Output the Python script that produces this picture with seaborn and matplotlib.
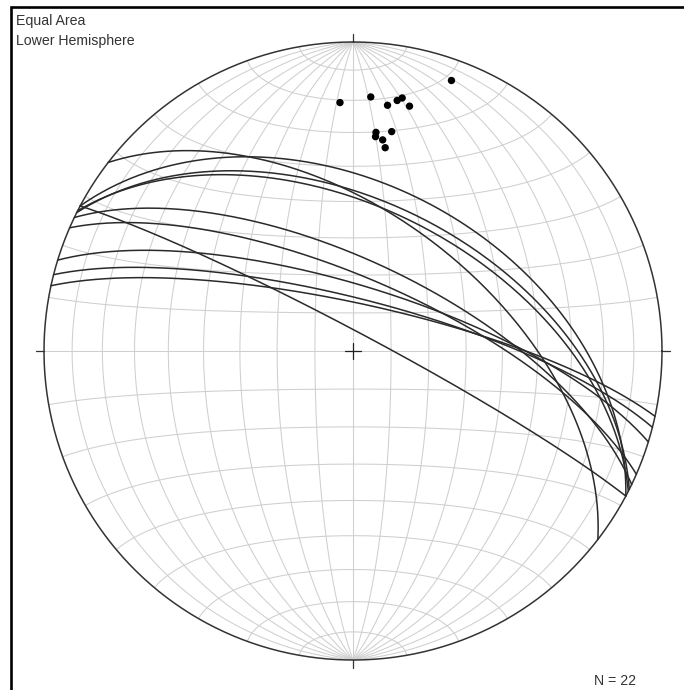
import numpy as np
import pandas as pd
import matplotlib
matplotlib.use("Agg")
import matplotlib.pyplot as plt
from matplotlib.patches import Rectangle
import seaborn as sns

# %% Data: planes (right-hand-rule strike / dip) and lineations (trend / plunge)
plane_strikes = [307.6, 298.0, 296.6, 297.0, 298.0, 295.6, 293.5, 287.1, 284.3, 282.2]
plane_dips = [54.0, 45.4, 50.0, 52.0, 85.0, 66.4, 70.8, 72.8, 76.2, 77.4]

line_trends = [357.0, 4.0, 8.0, 10.0, 11.0, 13.0, 20.0, 6.0, 6.0, 10.0, 8.0, 9.0]
line_plunges = [20.6, 18.7, 20.8, 18.8, 17.7, 19.8, 7.6, 29.6, 30.9, 28.7, 31.6, 33.8]

n_total = len(plane_strikes) + len(line_trends)


# %% Equal-area (Schmidt) projection helpers, lower hemisphere
def project(e, n, d):
    # unit vectors (east, north, down) with down >= 0
    s = np.sqrt(1.0 + d)
    return e / s, n / s


def great_circle(strike, dip, npts=181):
    s = np.radians(strike)
    dd = np.radians(strike + 90.0)
    dp = np.radians(dip)
    rake = np.linspace(0, np.pi, npts)
    sv = np.array([np.sin(s), np.cos(s), 0.0])
    dv = np.array([np.cos(dp) * np.sin(dd), np.cos(dp) * np.cos(dd), np.sin(dp)])
    v = np.outer(np.cos(rake), sv) + np.outer(np.sin(rake), dv)
    return project(v[:, 0], v[:, 1], np.clip(v[:, 2], 0, None))


def small_circle_ns(alpha, npts=181):
    a = np.radians(alpha)
    phi = np.linspace(0, np.pi, npts)
    e = np.sin(a) * np.cos(phi)
    n = np.full_like(phi, np.cos(a))
    d = np.sin(a) * np.sin(phi)
    return project(e, n, d)


# %% Tables for seaborn
rows = []
for i, (st, dp) in enumerate(zip(plane_strikes, plane_dips)):
    x, y = great_circle(st, dp)
    rows.append(pd.DataFrame({"x": x, "y": y, "plane": i}))
planes_df = pd.concat(rows, ignore_index=True)

t = np.radians(line_trends)
p = np.radians(line_plunges)
lx, ly = project(np.cos(p) * np.sin(t), np.cos(p) * np.cos(t), np.sin(p))
lines_df = pd.DataFrame({"x": lx, "y": ly})

# %% Figure
sns.set_style("white")
plt.rcParams["font.family"] = ["Liberation Sans", "DejaVu Sans"]

W, H = 684, 690
cx, cy, R = 353.0, 351.0, 309.0
fig = plt.figure(figsize=(W / 100, H / 100), dpi=100)
ax = fig.add_axes([0, 0, 1, 1])
ax.set_xlim(-cx / R, (W - cx) / R)
ax.set_ylim(-(H - cy) / R, cy / R)
ax.set_aspect("equal")
ax.axis("off")

grid_kw = dict(color="#cfcfcf", lw=0.75, zorder=1)
for dip in range(10, 91, 10):
    for st in (0, 180):
        gx, gy = great_circle(st, dip)
        ax.plot(gx, gy, **grid_kw)
for a in range(10, 171, 10):
    gx, gy = small_circle_ns(a)
    ax.plot(gx, gy, **grid_kw)

th = np.linspace(0, 2 * np.pi, 400)
ax.plot(np.cos(th), np.sin(th), color="#333333", lw=1.1, zorder=3)

# ticks at N, E, S, W and centre cross
for ang in (0, 90, 180, 270):
    a = np.radians(ang)
    ax.plot([np.sin(a), 1.026 * np.sin(a)], [np.cos(a), 1.026 * np.cos(a)],
            color="#333333", lw=0.9, zorder=3)
c = 0.025
ax.plot([-c, c], [0, 0], color="#222222", lw=0.9, zorder=3)
ax.plot([0, 0], [-c, c], color="#222222", lw=0.9, zorder=3)

sns.lineplot(data=planes_df, x="x", y="y", units="plane", estimator=None, sort=False,
             color="#2a2a2a", lw=1.1, ax=ax, legend=False, zorder=4)
sns.scatterplot(data=lines_df, x="x", y="y", color="black", s=28, edgecolor="none",
                ax=ax, legend=False, zorder=5)

ax.set_xlabel("")
ax.set_ylabel("")

fig.text(16 / W, 1 - 25 / H, "Equal Area", fontsize=10.2, color="#333333", va="baseline", ha="left")
fig.text(16 / W, 1 - 45 / H, "Lower Hemisphere", fontsize=10.2, color="#333333", va="baseline", ha="left")
fig.text(636 / W, 1 - 685 / H, f"N = {n_total}", fontsize=10.2, color="#333333", va="baseline", ha="right")

fig.add_artist(Rectangle((10.7 / W, -0.1), 1.2, 1.1 - 7.2 / H, transform=fig.transFigure,
                         fill=False, ec="black", lw=1.9, clip_on=False))

fig.savefig("out.png", dpi=100)
